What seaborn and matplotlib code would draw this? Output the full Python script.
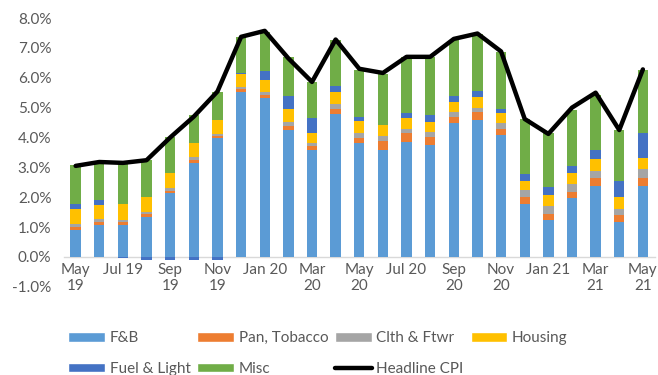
import numpy as np
import pandas as pd
import seaborn as sns
import matplotlib
matplotlib.use("Agg")
import matplotlib.pyplot as plt
from matplotlib.patches import Patch
from matplotlib.lines import Line2D

# Monthly contributions to headline CPI inflation (percentage points)
months = ["May 19", "Jun 19", "Jul 19", "Aug 19", "Sep 19", "Oct 19", "Nov 19", "Dec 19",
          "Jan 20", "Feb 20", "Mar 20", "Apr 20", "May 20", "Jun 20", "Jul 20", "Aug 20",
          "Sep 20", "Oct 20", "Nov 20", "Dec 20", "Jan 21", "Feb 21", "Mar 21", "Apr 21", "May 21"]
fnb = [0.90, 1.07, 1.07, 1.35, 2.13, 3.15, 3.97, 5.52, 5.31, 4.25, 3.58, 4.77, 3.80,
       3.58, 3.86, 3.75, 4.49, 4.58, 4.08, 1.77, 1.24, 1.96, 2.37, 1.18, 2.37]
pan_tobacco = [0.10, 0.10, 0.09, 0.09, 0.09, 0.10, 0.07, 0.09, 0.11, 0.14, 0.12, 0.17, 0.17,
               0.31, 0.28, 0.27, 0.18, 0.28, 0.19, 0.23, 0.20, 0.22, 0.26, 0.22, 0.26]
clothing = [0.10, 0.10, 0.08, 0.08, 0.08, 0.10, 0.07, 0.09, 0.11, 0.14, 0.12, 0.18, 0.17,
            0.16, 0.13, 0.17, 0.19, 0.14, 0.22, 0.24, 0.27, 0.28, 0.26, 0.19, 0.30]
housing = [0.49, 0.47, 0.53, 0.50, 0.50, 0.45, 0.47, 0.44, 0.41, 0.41, 0.34, 0.41, 0.41,
           0.36, 0.37, 0.34, 0.33, 0.36, 0.34, 0.31, 0.36, 0.34, 0.39, 0.41, 0.40]
fuel_light = [0.20, 0.17, -0.05, -0.11, -0.11, -0.11, -0.11, 0.03, 0.28, 0.44, 0.48, 0.20, 0.12,
              0.02, 0.19, 0.22, 0.19, 0.19, 0.11, 0.23, 0.26, 0.24, 0.30, 0.55, 0.81]
misc = [1.29, 1.22, 1.38, 1.22, 1.22, 0.95, 0.95, 1.20, 1.30, 1.32, 1.22, 1.53, 1.58,
        1.71, 1.87, 1.93, 1.88, 1.90, 1.93, 1.83, 1.83, 1.88, 1.84, 1.70, 2.11]
headline_cpi = [3.05, 3.18, 3.15, 3.24, 4.00, 4.70, 5.54, 7.37, 7.57, 6.65, 5.86, 7.28, 6.30,
                6.16, 6.70, 6.70, 7.30, 7.48, 6.88, 4.62, 4.12, 5.00, 5.50, 4.25, 6.28]

tick_labels = ["May\n19", "Jul 19", "Sep\n19", "Nov\n19", "Jan 20", "Mar\n20", "May\n20",
               "Jul 20", "Sep\n20", "Nov\n20", "Jan 21", "Mar\n21", "May\n21"]
y_ticks = [-1, 0, 1, 2, 3, 4, 5, 6, 7, 8]

components = [
    ("F&B", fnb, "#5B9BD5"),
    ("Pan, Tobacco", pan_tobacco, "#ED7D31"),
    ("Clth & Ftwr", clothing, "#A5A5A5"),
    ("Housing", housing, "#FFC000"),
    ("Fuel & Light", fuel_light, "#4472C4"),
    ("Misc", misc, "#70AD47"),
]

sns.set_theme(style="white")
plt.rcParams["font.family"] = ["Lato", "DejaVu Sans"]
text_color = "#595959"
fs = 11

fig = plt.figure(figsize=(6.58, 3.75), dpi=100)
ax = fig.add_axes([0.097, 0.235, 0.898, 0.717])

pos_base = np.zeros(len(months))
neg_base = np.zeros(len(months))
for name, vals, color in components:
    vals = np.asarray(vals, dtype=float)
    base = np.where(vals >= 0, pos_base, neg_base)
    df = pd.DataFrame({"month": months, "value": vals})
    sns.barplot(data=df, x="month", y="value", order=months, color=color,
                saturation=1, width=0.44, errorbar=None, bottom=base,
                linewidth=0, ax=ax)
    pos_base += np.where(vals >= 0, vals, 0)
    neg_base += np.where(vals < 0, vals, 0)

sns.lineplot(x=np.arange(len(months)), y=headline_cpi, color="black", linewidth=3.2,
             sort=False, ax=ax, zorder=5)

ax.set_xlim(-0.5, len(months) - 0.5)
ax.set_ylim(-1, 8)
ax.set_yticks(y_ticks)
ax.set_yticklabels([f"{v:.1f}%" for v in y_ticks])
ax.set_xticks(np.arange(0, len(months), 2))
ax.set_xticklabels(tick_labels)
ax.set_xlabel("")
ax.set_ylabel("")

for side in ["top", "right", "left"]:
    ax.spines[side].set_visible(False)
ax.spines["bottom"].set_position(("data", 0))
ax.spines["bottom"].set_color("#D9D9D9")
ax.spines["bottom"].set_linewidth(1)
ax.spines["bottom"].set_zorder(0)
ax.tick_params(axis="both", length=0, labelsize=fs, labelcolor=text_color)
ax.tick_params(axis="x", pad=4)
ax.tick_params(axis="y", pad=9)

handles = [Patch(facecolor=c, label=n) for n, _, c in components]
line_handle = Line2D([0], [0], color="black", linewidth=3.2, label="Headline CPI")
# row-major ordering across four columns
ordered = [handles[0], handles[4], handles[1], handles[5], handles[2], line_handle, handles[3]]
fig.legend(handles=ordered, labels=[h.get_label() for h in ordered], ncol=4,
           loc="upper left", bbox_to_anchor=(0.104, 0.117), frameon=False,
           fontsize=fs, labelcolor=text_color, handlelength=2.4, handleheight=0.6,
           handletextpad=0.3, columnspacing=0.45, labelspacing=1.1, borderaxespad=0,
           borderpad=0)

fig.savefig("out.png", dpi=100)
